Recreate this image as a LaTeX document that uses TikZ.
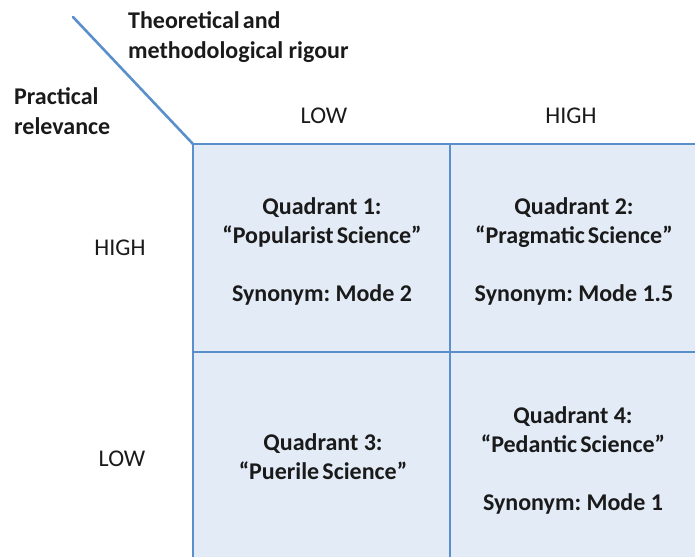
\documentclass[tikz,border=0pt]{standalone}
\usepackage{fontspec}
\setmainfont{Carlito}
\definecolor{gridline}{HTML}{5B8FCB}
\definecolor{cellfill}{HTML}{E3EBF6}
\definecolor{txt}{HTML}{1A1A1A}
% tight word spacing for the quoted names
\newcommand{\tightwords}[1]{{\spaceskip=0.13em plus 0.05em\relax #1}}
\begin{document}
\frenchspacing
\begin{tikzpicture}[x=1pt,y=-1pt,
  axislabel/.style={font=\fontsize{24}{29.5}\selectfont\bfseries, text=txt, align=left, anchor=west, inner sep=0pt},
  levellabel/.style={font=\fontsize{24}{29}\selectfont, text=txt, inner sep=0pt},
  quadtext/.style={font=\fontsize{24}{29}\selectfont\bfseries, text=txt, align=center, inner sep=0pt},
  gridstroke/.style={draw=gridline, line width=2.6pt}]
\useasboundingbox (0,0) rectangle (695,557);
% cells
\fill[cellfill] (193,144) rectangle (695,557);
% grid lines
\coordinate (corner) at (193,144);
\coordinate (diagend) at (73,17);
\coordinate (topright) at (695,144);
\coordinate (bottomleft) at (193,557);
\coordinate (midtop) at (450,144);
\coordinate (midbottom) at (450,557);
\coordinate (midleft) at (193,352);
\coordinate (midright) at (695,352);
\draw[gridstroke, line cap=round] (diagend) -- (corner);
\draw[gridstroke] (topright) -- (corner) -- (bottomleft);
\draw[gridstroke] (midtop) -- (midbottom);
\draw[gridstroke] (midleft) -- (midright);
% axis titles
\node[axislabel] (rigour) at (128,37) {\tightwords{Theoretical and}\\methodological rigour};
\node[axislabel] (relevance) at (14,111) {Practical\\relevance};
% level labels
\node[levellabel] (collow) at (324,116) {LOW};
\node[levellabel] (colhigh) at (571,116) {HIGH};
\node[levellabel] (rowhigh) at (120,248) {HIGH};
\node[levellabel] (rowlow) at (122,459) {LOW};
% quadrants
\node[quadtext] (q1) at (322,251.5) {Quadrant 1:\\\tightwords{“Popularist Science”}\\[29pt]Synonym: Mode 2};
\node[quadtext] (q2) at (574,251.5) {Quadrant 2:\\\tightwords{“Pragmatic Science”}\\[29pt]Synonym: Mode 1.5};
\node[quadtext] (q3) at (323,457) {Quadrant 3:\\\tightwords{“Puerile Science”}};
\node[quadtext] (q4) at (573,460) {Quadrant 4:\\\tightwords{“Pedantic Science”}\\[29pt]Synonym: Mode 1};
\end{tikzpicture}
\end{document}
